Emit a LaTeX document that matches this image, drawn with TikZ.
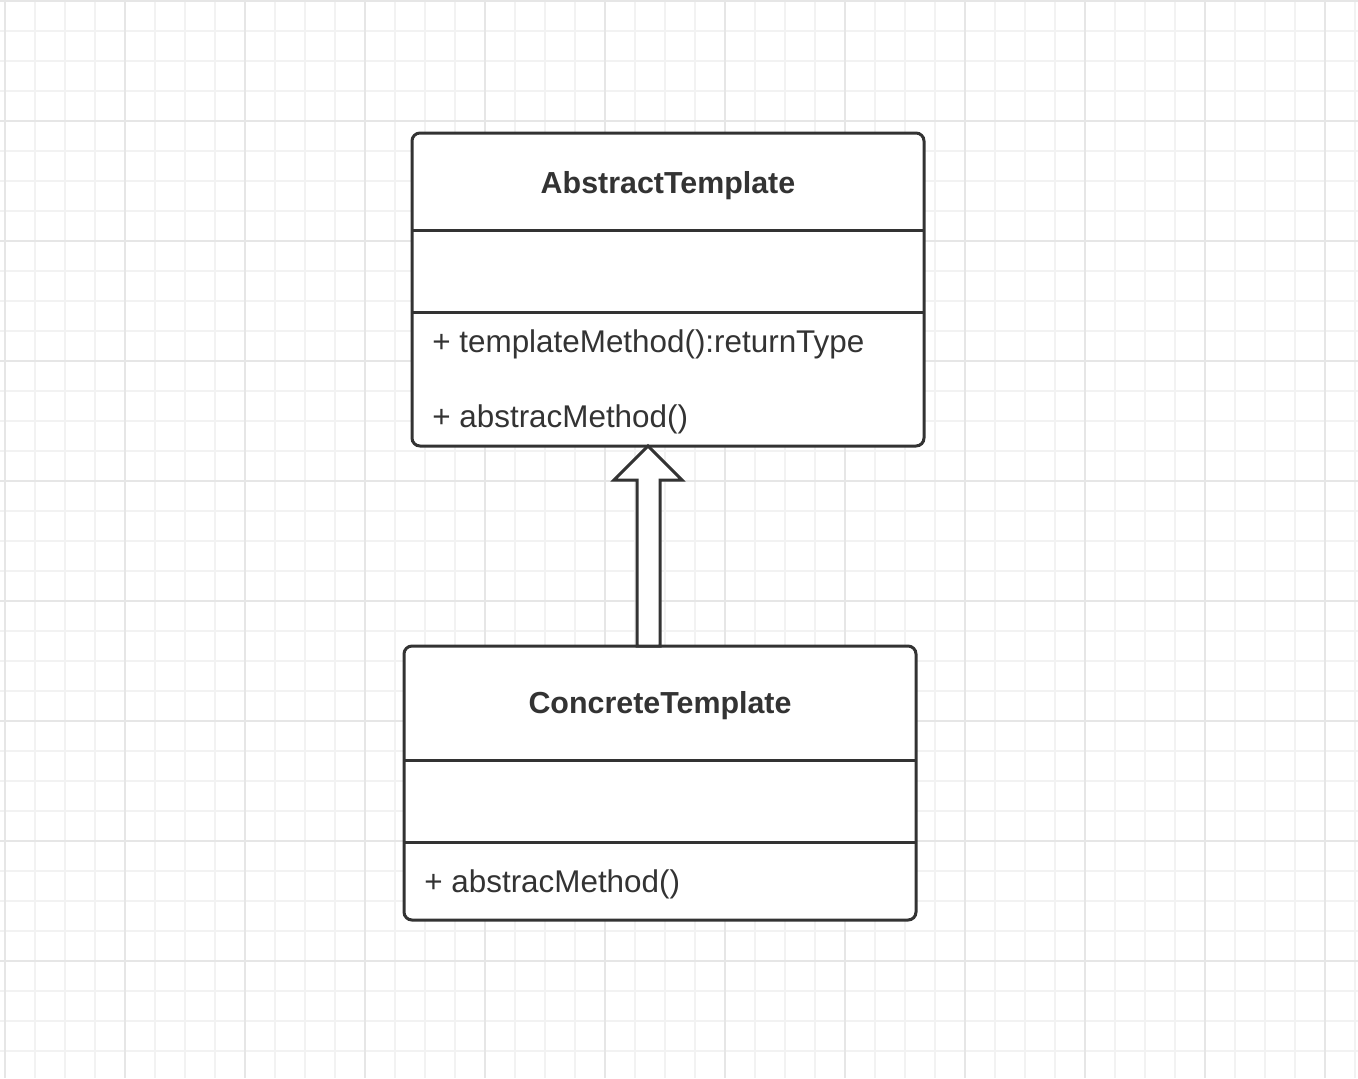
\documentclass[tikz,border=0pt]{standalone}
\usepackage{fontspec}
\setmainfont{Liberation Sans}
\usepackage{tikz}
\usetikzlibrary{positioning, calc}
\definecolor{ink}{HTML}{333333}
\definecolor{gridminor}{HTML}{F2F2F2}
\definecolor{gridmajor}{HTML}{E6E6E6}
\tikzset{
  classbox/.style = {draw=ink, line width=1.5pt, rounded corners=4pt,
      fill=white, inner sep=0pt, outer sep=0pt},
  divider/.style = {draw=ink, line width=1.5pt},
  title/.style = {text=ink, font=\fontsize{15.2}{18}\selectfont\bfseries},
  member/.style = {text=ink, anchor=west, inner sep=0pt,
      font=\fontsize{15.7}{18}\selectfont},
  hollow/.style = {draw=ink, line width=1.5pt, fill=white, line join=miter},
  minorline/.style = {gridminor, line width=1pt},
  majorline/.style = {gridmajor, line width=1pt},
}

\begin{document}
\begin{tikzpicture}[x=0.5pt, y=-0.5pt]
  \useasboundingbox (0,0) rectangle (1358,1078);
  \fill[white] (0,0) rectangle (1358,1078);

  % background grid
  \foreach \i in {0,...,45} {
    \draw[minorline] (5+30*\i,0) -- (5+30*\i,1078);
  }
  \foreach \i in {0,...,35} {
    \draw[minorline] (0,1+30*\i) -- (1358,1+30*\i);
  }
  \foreach \i in {0,...,11} {
    \draw[majorline] (5+120*\i,0) -- (5+120*\i,1078);
  }
  \foreach \i in {0,...,8} {
    \draw[majorline] (0,1+120*\i) -- (1358,1+120*\i);
  }

  % abstract class
  \node[classbox, minimum width=256pt, minimum height=156.5pt] (abs) at (668,289.5) {};
  \draw[divider] (abs.west |- 0,230) -- (abs.east |- 0,230);
  \draw[divider] (abs.west |- 0,312) -- (abs.east |- 0,312);
  \node[title] (absname) at (668,186) {AbstractTemplate};
  \node[member] (absop1) at (432,344) {+ templateMethod():returnType};
  \node[member] (absop2) at (432,419) {+ abstracMethod()};

  % concrete class
  \node[classbox, minimum width=256pt, minimum height=137pt] (con) at (660,783) {};
  \draw[divider] (con.west |- 0,760) -- (con.east |- 0,760);
  \draw[divider] (con.west |- 0,842) -- (con.east |- 0,842);
  \node[title] (conname) at (660,706) {ConcreteTemplate};
  \node[member] (conop1) at (424,884) {+ abstracMethod()};

  % generalization
  \coordinate (tip) at (abs.south -| 648,0);
  \coordinate (foot) at (con.north -| 648,0);
  \draw[hollow] (tip) -- ++(34,34) -- ++(-22,0) -- (foot -| 660,0)
    -- (foot -| 637,0) -- (637,480) -- (614,480) -- cycle;
\end{tikzpicture}
\end{document}
